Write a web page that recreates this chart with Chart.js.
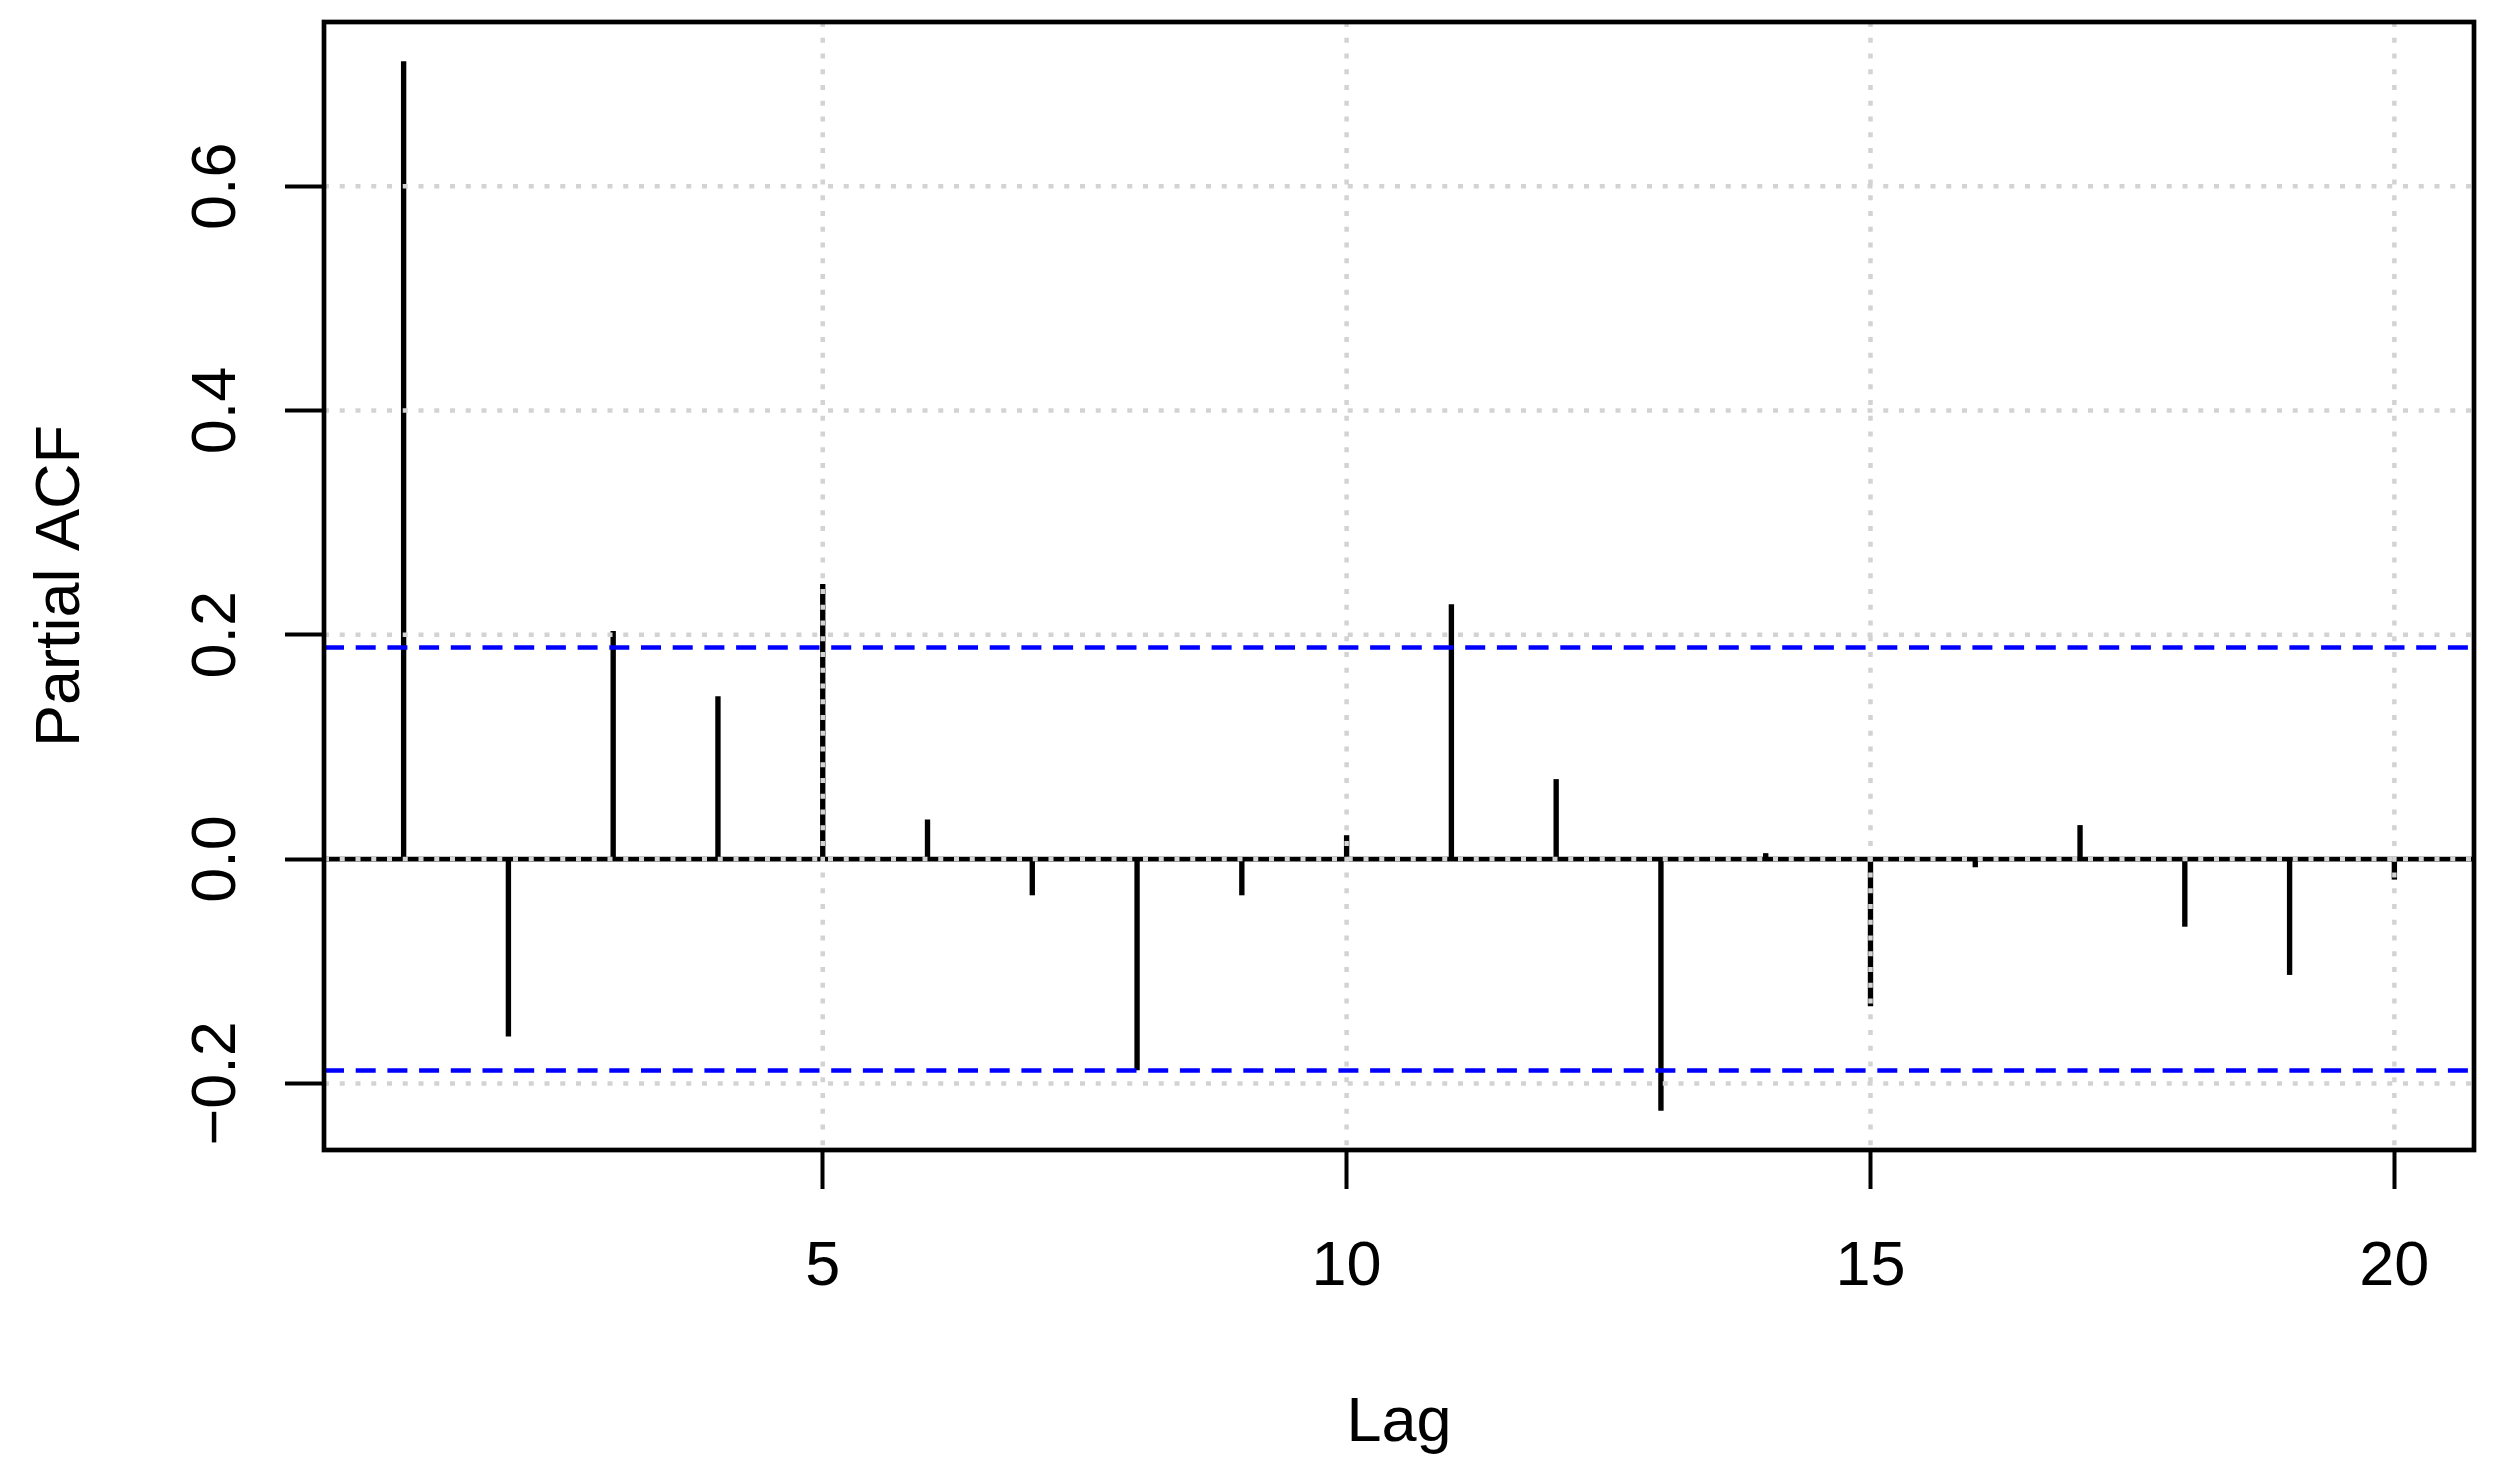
<!DOCTYPE html>
<html>
<head>
<meta charset="utf-8">
<script src="https://cdn.jsdelivr.net/npm/chart.js@4.4.0/dist/chart.umd.min.js"></script>
<style>
html,body{margin:0;padding:0;background:#fff;}
#wrap{width:2502px;height:1472px;}
</style>
</head>
<body>
<div id="wrap"><canvas id="c" width="2502" height="1472"></canvas></div>
<script>
// ---- data ----
const lags = [1,2,3,4,5,6,7,8,9,10,11,12,13,14,15,16,17,18,19,20];
const pacfValues = [0.711,-0.158,0.203,0.145,0.245,0.035,-0.032,-0.188,-0.032,0.021,
                    0.227,0.071,-0.224,0.005,-0.131,-0.007,0.030,-0.060,-0.103,-0.018];
const ciValue = 0.1886;
const xRange = [0.24, 20.76];
const yRange = [-0.2594, 0.7464];
const xTickValues = [5,10,15,20];
const xTickLabels = ['5','10','15','20'];
const yTickValues = [-0.2,0,0.2,0.4,0.6];
const yTickLabels = ['\u22120.2','0.0','0.2','0.4','0.6'];
const xTitle = 'Lag';
const yTitle = 'Partial ACF';

const FONT = '"Liberation Sans", Arial, Helvetica, sans-serif';
const FS = 63;

const barData = lags.map((l,i)=>({x:l, y:pacfValues[i]}));
const lineAt = v => xRange.map(x=>({x:x, y:v}));

const overlay = {
  id:'overlay',
  afterDatasetsDraw(chart){
    const {ctx, chartArea:a, scales:{x,y}} = chart;
    ctx.save();
    ctx.beginPath(); ctx.rect(a.left,a.top,a.right-a.left,a.bottom-a.top); ctx.clip();
    ctx.strokeStyle = '#D3D3D3'; ctx.lineWidth = 4.5; ctx.lineCap='butt';
    ctx.setLineDash([5,10.75]);
    x.ticks.forEach(t=>{
      const px = x.getPixelForValue(t.value);
      ctx.beginPath(); ctx.moveTo(px,a.top); ctx.lineTo(px,a.bottom); ctx.stroke();
    });
    y.ticks.forEach(t=>{
      const py = y.getPixelForValue(t.value);
      ctx.beginPath(); ctx.moveTo(a.left,py); ctx.lineTo(a.right,py); ctx.stroke();
    });
    ctx.restore();
    ctx.save();
    ctx.strokeStyle='#000'; ctx.lineWidth=4.7; ctx.setLineDash([]);
    ctx.strokeRect(a.left,a.top,a.right-a.left,a.bottom-a.top);
    ctx.restore();
  },
  afterDraw(chart){
    const {ctx, scales:{y}} = chart;
    ctx.save();
    ctx.font = FS+'px '+FONT;
    ctx.fillStyle='#000'; ctx.textAlign='center'; ctx.textBaseline='alphabetic';
    const bx = y.right - 89;
    y.ticks.forEach((t,i)=>{
      const py = y.getPixelForValue(t.value);
      ctx.save(); ctx.translate(bx,py); ctx.rotate(-Math.PI/2);
      ctx.fillText(yTickLabels[i],0,0);
      ctx.restore();
    });
    ctx.restore();
  }
};

new Chart(document.getElementById('c'), {
  type:'bar',
  data:{
    datasets:[
      {type:'line', data:lineAt(ciValue), borderColor:'#0000FF', borderWidth:4.5, borderDash:[20,11.7], pointRadius:0, order:1},
      {type:'line', data:lineAt(-ciValue), borderColor:'#0000FF', borderWidth:4.5, borderDash:[20,11.7], pointRadius:0, order:1},
      {type:'line', data:lineAt(0), borderColor:'#000', borderWidth:4.7, pointRadius:0, order:2},
      {type:'bar', data:barData, backgroundColor:'#000', borderWidth:0, barThickness:4.7, order:3}
    ]
  },
  options:{
    responsive:false, animation:false, devicePixelRatio:1,
    layout:{padding:{top:22,right:28,left:0,bottom:0}},
    plugins:{legend:{display:false}, tooltip:{enabled:false}},
    scales:{
      x:{
        type:'linear', min:xRange[0], max:xRange[1], offset:false,
        afterBuildTicks: s=>{ s.ticks = xTickValues.map(v=>({value:v})); },
        afterFit: s=>{ s.height = 322; },
        ticks:{ callback:(v,i)=>xTickLabels[i], color:'#000', font:{family:FONT,size:FS}, padding:41, maxRotation:0, minRotation:0, autoSkip:false },
        grid:{ drawOnChartArea:false, drawTicks:true, tickLength:39, tickColor:'#000', tickWidth:4, offset:false },
        border:{display:false},
        title:{ display:true, text:xTitle, color:'#000', font:{family:FONT,size:FS,lineHeight:1}, padding:{top:0,bottom:17} }
      },
      y:{
        type:'linear', min:yRange[0], max:yRange[1],
        afterBuildTicks: s=>{ s.ticks = yTickValues.map(v=>({value:v})); },
        afterFit: s=>{ s.width = 324; },
        ticks:{ display:false },
        grid:{ drawOnChartArea:false, drawTicks:true, tickLength:39, tickColor:'#000', tickWidth:4 },
        border:{display:false},
        title:{ display:true, text:yTitle, color:'#000', font:{family:FONT,size:FS,lineHeight:1}, padding:{top:30,bottom:0} }
      }
    }
  },
  plugins:[overlay]
});
</script>
</body>
</html>
